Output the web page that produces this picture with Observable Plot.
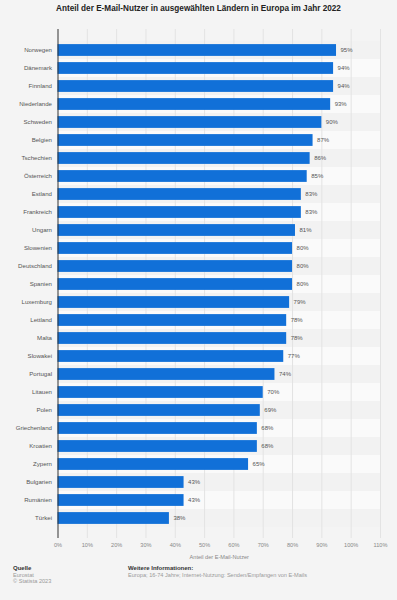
<!DOCTYPE html>
<html>
<head>
<meta charset="utf-8">
<script src="https://cdn.jsdelivr.net/npm/d3@7"></script>
<script src="https://cdn.jsdelivr.net/npm/@observablehq/plot@0.6"></script>
<style>
  html, body { margin: 0; padding: 0; background: #f4f4f4; }
  body { width: 397px; height: 600px; position: relative; overflow: hidden; font-family: "Liberation Sans", Arial, sans-serif; }
  #title { position: absolute; top: 4px; left: 0; width: 397px; text-align: center; font-weight: bold; font-size: 8.2px; color: #222; }
  #chart { position: absolute; top: 20px; left: 0; }
  .foot { position: absolute; font-size: 5.6px; line-height: 6.6px; color: #999; }
  .foot b { color: #333; font-weight: bold; font-size: 6px; }
</style>
</head>
<body>
<div id="title">Anteil der E-Mail-Nutzer in ausgewählten Ländern in Europa im Jahr 2022</div>
<div id="chart"></div>
<div class="foot" style="left:13px; top:565px;"><b>Quelle</b><br>Eurostat<br>© Statista 2023</div>
<div class="foot" style="left:128px; top:565px;"><b>Weitere Informationen:</b><br>Europa; 16-74 Jahre; Internet-Nutzung: Senden/Empfangen von E-Mails</div>
<script>
const countries = ["Norwegen","Dänemark","Finnland","Niederlande","Schweden","Belgien","Tschechien","Österreich","Estland","Frankreich","Ungarn","Slowenien","Deutschland","Spanien","Luxemburg","Lettland","Malta","Slowakei","Portugal","Litauen","Polen","Griechenland","Kroatien","Zypern","Bulgarien","Rumänien","Türkei"];
const values = [95,94,94,93,90,87,86,85,83,83,81,80,80,80,79,78,78,77,74,70,69,68,68,65,43,43,38];
const xTicks = [0,10,20,30,40,50,60,70,80,90,100,110];
const axisTitle = "Anteil der E-Mail-Nutzer";

const data = countries.map((c, i) => ({country: c, value: values[i], idx: i}));

const chart = Plot.plot({
  width: 397,
  height: 545,
  marginTop: 9,
  marginBottom: 27,
  marginLeft: 57.5,
  marginRight: 17,
  style: {fontFamily: "Liberation Sans, Arial, sans-serif", background: "transparent"},
  x: {domain: [0, 110]},
  y: {domain: countries, padding: 0},
  marks: [
    Plot.barX(data, {y: "country", x1: 0, x2: 110, fill: d => d.idx % 2 === 0 ? "#f2f2f2" : "#fafafa"}),
    Plot.ruleX(xTicks.slice(1), {stroke: "#e3e3e3", strokeWidth: 1}),
    Plot.barX(data, {y: "country", x: "value", fill: "#1170d8", insetTop: 3.1, insetBottom: 3.1}),
    Plot.text(data, {y: "country", x: "value", text: d => d.value + "%", textAnchor: "start", dx: 4, fontSize: 6, fill: "#555"}),
    Plot.ruleX([0], {stroke: "#333", strokeWidth: 1}),
    Plot.axisY({tickSize: 0, tickPadding: 6, fontSize: 6.1, color: "#555", label: null}),
    Plot.axisX({ticks: xTicks, tickSize: 0, tickPadding: 5, tickFormat: d => d + "%", fontSize: 5.6, color: "#888", label: axisTitle, labelAnchor: "center", labelArrow: "none", labelOffset: 20})
  ]
});
document.getElementById("chart").appendChild(chart);
</script>
</body>
</html>
